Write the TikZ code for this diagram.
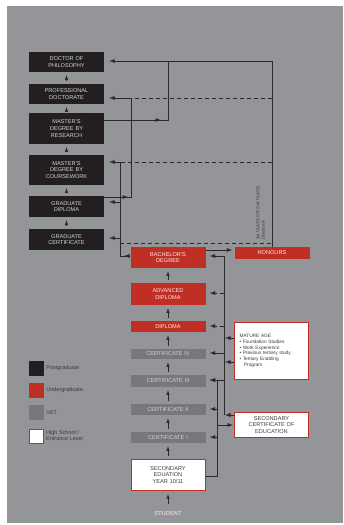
\documentclass[tikz,border=0pt]{standalone}
\usepackage{fontspec}
\setmainfont{Liberation Sans}
\usepackage{tikz}
\usetikzlibrary{calc}
\definecolor{PanelGray}{HTML}{939598}
\definecolor{PostBlack}{HTML}{231F20}
\definecolor{UnderRed}{HTML}{BF2F24}
\definecolor{VetGray}{HTML}{77787B}
\definecolor{InkGray}{HTML}{3A3A3A}
\definecolor{PaleText}{HTML}{D4D4D4}
\definecolor{LineBlack}{HTML}{2A2A2A}
\tikzstyle{post} = [fill=PostBlack, text=PaleText, minimum width=75pt, text width=73pt, align=center, inner sep=0pt, font=\fontsize{5.6}{6.6}\selectfont]
\tikzstyle{under} = [post, fill=UnderRed, text=red!8!white]
\tikzstyle{vet} = [post, fill=VetGray]
\tikzstyle{school} = [post, fill=white, draw=UnderRed, line width=1pt, minimum width=74pt, text=InkGray]
\tikzstyle{link} = [draw=LineBlack, line width=0.9pt]
\tikzstyle{pathway} = [link, dash pattern=on 4pt off 3pt]
\tikzstyle{key} = [minimum size=15pt, inner sep=0pt]
\tikzstyle{keytext} = [anchor=west, text=InkGray, align=left, inner sep=2pt, font=\fontsize{5.5}{6}\selectfont]

\begin{document}
\begin{tikzpicture}[x=1pt, y=-1pt, >=latex]
  \useasboundingbox (0,0) rectangle (343,525);
  \fill[PanelGray] (7,6) rectangle (343,523);

  % postgraduate ladder
  \node[post, minimum height=20pt] (phd) at (66.5,62) {DOCTOR OF\\PHILOSOPHY};
  \node[post, minimum height=20pt] (prof) at (66.5,94) {PROFESSIONAL\\DOCTORATE};
  \node[post, minimum height=31pt] (mres) at (66.5,128.5) {MASTER'S\\DEGREE BY\\RESEARCH};
  \node[post, minimum height=30pt] (mcourse) at (66.5,170) {MASTER'S\\DEGREE BY\\COURSEWORK};
  \node[post, minimum height=21pt] (graddip) at (66.5,206.5) {GRADUATE\\DIPLOMA};
  \node[post, minimum height=21pt] (gradcert) at (66.5,239.5) {GRADUATE\\CERTIFICATE};

  % undergraduate and VET ladder
  \node[under, minimum height=21pt] (bach) at (168,257.5) {BACHELOR'S\\DEGREE};
  \node[under, minimum height=22pt] (advdip) at (168,294) {ADVANCED\\DIPLOMA};
  \node[under, minimum height=11pt] (dip) at (168,326.5) {DIPLOMA};
  \node[vet, minimum height=10pt] (cert4) at (168,354) {CERTIFICATE IV};
  \node[vet, minimum height=12pt] (cert3) at (168,381) {CERTIFICATE III};
  \node[vet, minimum height=11pt] (cert2) at (168,409.5) {CERTIFICATE II};
  \node[vet, minimum height=11pt] (cert1) at (168,437.5) {CERTIFICATE I};
  \node[school, minimum height=31pt] (sec) at (168,475) {SECONDARY\\EDUATION\\YEAR 10/11};
  \node[text=PaleText, font=\fontsize{5.8}{6}\selectfont\bfseries] (student) at (168,513) {STUDENT};

  % side entries
  \node[under, minimum height=12pt] (honours) at (272,253) {HONOURS};
  \node[school, minimum height=57pt, text width=64pt, align=left, font=\fontsize{4.8}{5.8}\selectfont] (mature) at (271.5,351) {MATURE AGE\\[-0.5pt]
    \textbullet\ Foundation Studies\\
    \textbullet\ Work Experience\\
    \textbullet\ Previous tertiary study\\
    \textbullet\ Tertiary Enabling\\
    \hspace*{4.5pt}Program\\[3pt]};
  \node[school, minimum height=25pt] (seccert) at (271.5,425) {SECONDARY\\CERTIFICATE OF\\EDUCATION};

  % legend
  \node[key, fill=PostBlack] (kpost) at (36.5,368) {};
  \node[key, fill=UnderRed] (kunder) at (36.5,390.5) {};
  \node[key, fill=VetGray] (kvet) at (36.5,412.5) {};
  \node[key, fill=white, draw=UnderRed, line width=1pt, minimum size=14pt] (kschool) at (36.5,436) {};
  \node[keytext] (lpost) at (kpost.east) {Postgraduate};
  \node[keytext] (lunder) at (kunder.east) {Undergraduate};
  \node[keytext] (lvet) at (kvet.east) {VET};
  \node[keytext] (lschool) at (kschool.east) {High School /\\Entrance Level};

  % steps up each ladder
  \foreach \lo/\hi in {prof/phd, mres/prof, mcourse/mres, graddip/mcourse, gradcert/graddip,
      advdip/bach, dip/advdip, cert4/dip, cert3/cert4, cert2/cert3, cert1/cert2, sec/cert1, student/sec}
    \draw[link, ->, line width=0.6pt, shorten >=3pt, shorten <=3pt] (\lo) -- (\hi);

  % research and honours pathways
  \draw[link, ->, shorten >=5pt] (honours.north) -- (honours.north |- 0,61) -- (phd.east |- 0,61);
  \draw[link] (mres.east |- 0,120) -| (168,61);
  \draw[link, ->] (mres.east |- 0,120) -- (161,120);
  \draw[pathway] (honours.north |- 0,98) -- (131,98);
  \draw[link, ->, shorten >=5pt] (graddip.east |- 0,197) -| (131,98) -- (prof.east |- 0,98);
  \draw[link, ->] (graddip.east |- 0,197) -- (128,197);
  \draw[pathway] (honours.north |- 0,162) -- (120,162);
  \draw[pathway] (120,243) -- (honours.north |- 0,243);
  \draw[link, ->, shorten >=5pt] (bach.west |- 0,256) -| (120,162) -- (mcourse.east |- 0,162);
  \draw[link, ->] (bach.west |- 0,256) -- (124,256);
  \foreach \tgt/\y in {graddip/202, gradcert/238}
    \draw[link, ->, shorten >=5pt] (120,\y) -- (\tgt.east |- 0,\y);
  \node[rotate=90, anchor=north west, align=left, text=InkGray, inner sep=0pt,
    font=\fontsize{4.4}{5.4}\selectfont] (classnote) at (256,240) {1st CLASS OR 2nd CLASS\\Division A};

  % bachelor to honours
  \draw[link, ->, shorten >=2pt] (bach.east |- 0,250) -- (honours.west |- 0,250);

  % entry routes from the right
  \draw[link] (224,256) -- (224,415);
  \draw[link, ->, shorten >=4pt] (224,256) -- (bach.east |- 0,256);
  \foreach \tgt/\y/\kind in {advdip/293/pathway, dip/326/pathway, cert4/353/link, cert3/380/link}
    \draw[\kind, ->, shorten >=4pt] (224,\y) -- (\tgt.east |- 0,\y);
  \foreach \y in {338, 362}
    \draw[link, ->] (mature.west |- 0,\y) -- (225,\y);
  \draw[link, ->] (seccert.west |- 0,415) -- (225,415);

  % from secondary school
  \draw[link] (sec.east |- 0,476) -| (217,380);
  \foreach \tgt/\y in {cert3/380, cert2/409, cert1/437}
    \draw[link, ->, shorten >=4pt] (217,\y) -- (\tgt.east |- 0,\y);
  \draw[link, ->, shorten >=1pt] (217,425) -- (seccert.west |- 0,425);
\end{tikzpicture}
\end{document}
